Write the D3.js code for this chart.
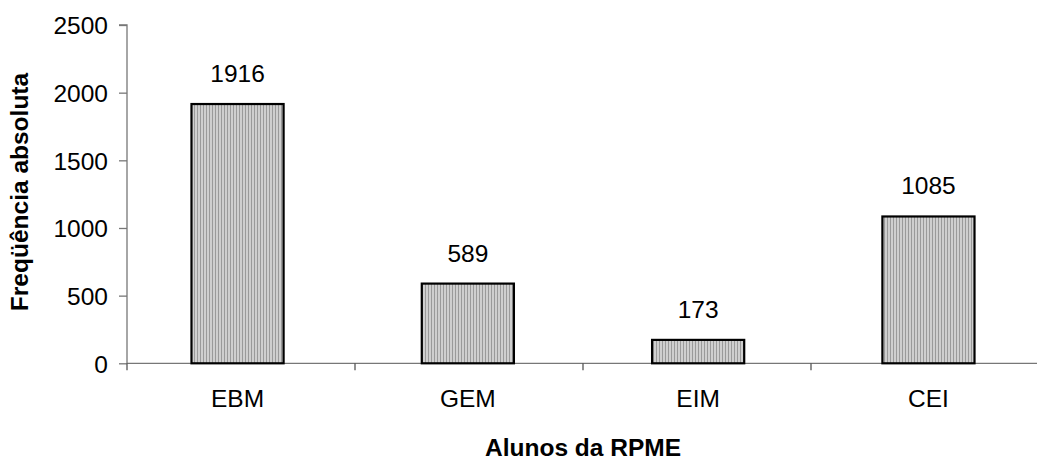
<!DOCTYPE html>
<html>
<head>
<meta charset="utf-8">
<script src="https://cdn.jsdelivr.net/npm/d3@7/dist/d3.min.js"></script>
<style>
  html, body { margin: 0; padding: 0; background: #fff; }
  svg { display: block; }
  text { font-family: "Liberation Sans", Arial, sans-serif; fill: #000; }
</style>
</head>
<body>
<svg id="chart" width="1037" height="460"></svg>
<script>
// Students of the RPME by group
const categories = ["EBM", "GEM", "EIM", "CEI"];
const values = [1916, 589, 173, 1085];
const yTicks = [0, 500, 1000, 1500, 2000, 2500];
const yTitle = "Freqüência absoluta";
const xTitle = "Alunos da RPME";

const svg = d3.select("#chart");
const plot = { left: 127, right: 1039, top: 25, bottom: 363.3 };
const fontSize = "24.5px";

// vertical stripe fill for the bars
const defs = svg.append("defs");
const pat = defs.append("pattern")
  .attr("id", "stripes")
  .attr("patternUnits", "userSpaceOnUse")
  .attr("width", 3).attr("height", 4);
pat.append("rect").attr("width", 3).attr("height", 4).attr("fill", "#cfcfcf");
pat.append("rect").attr("x", 2).attr("width", 1).attr("height", 4).attr("fill", "#9a9a9a");

const x = d3.scaleBand()
  .domain(categories)
  .range([plot.left, plot.right])
  .paddingInner(0.6)
  .paddingOuter(0.28);

const y = d3.scaleLinear()
  .domain([0, 2500])
  .range([plot.bottom, plot.top]);

// y axis
const yAxis = d3.axisLeft(y).tickValues(yTicks).tickSize(8).tickPadding(11).tickFormat(d3.format("d"));
const gy = svg.append("g").attr("transform", `translate(${plot.left},0)`).call(yAxis);
gy.select(".domain").attr("stroke", "#777").attr("stroke-width", 1.3).attr("d", `M-8,${y(2500)}H0V${y(0)}`);
gy.selectAll(".tick line").attr("stroke", "#777").attr("stroke-width", 1.3);
gy.selectAll(".tick text").style("font-size", fontSize).attr("fill", "#000").attr("dy", "0.36em");

// x axis baseline and category boundary ticks
const step = (plot.right - plot.left) / categories.length;
const boundaries = d3.range(categories.length + 1).map(i => plot.left + i * step);
svg.append("line")
  .attr("x1", plot.left).attr("x2", 1037)
  .attr("y1", y(0)).attr("y2", y(0))
  .attr("stroke", "#777").attr("stroke-width", 1.3);
svg.selectAll(".xtick").data(boundaries).enter().append("line")
  .attr("class", "xtick")
  .attr("x1", d => d).attr("x2", d => d)
  .attr("y1", y(0)).attr("y2", y(0) + 7)
  .attr("stroke", "#555").attr("stroke-width", 1.3);

// category labels
svg.selectAll(".xlabel").data(categories).enter().append("text")
  .attr("class", "xlabel")
  .attr("x", d => x(d) + x.bandwidth() / 2)
  .attr("y", 407)
  .attr("text-anchor", "middle")
  .style("font-size", fontSize)
  .text(d => d);

// bars
svg.selectAll(".bar").data(values).enter().append("rect")
  .attr("class", "bar")
  .attr("x", (d, i) => x(categories[i]))
  .attr("y", d => y(d))
  .attr("width", x.bandwidth())
  .attr("height", d => y(0) - y(d))
  .attr("fill", "url(#stripes)")
  .attr("stroke", "#000")
  .attr("stroke-width", 2.2);

// value labels
svg.selectAll(".vlabel").data(values).enter().append("text")
  .attr("class", "vlabel")
  .attr("x", (d, i) => x(categories[i]) + x.bandwidth() / 2)
  .attr("y", d => y(d) - 22)
  .attr("text-anchor", "middle")
  .style("font-size", fontSize)
  .text(d => d);

// axis titles
svg.append("text")
  .attr("transform", `translate(28,192) rotate(-90)`)
  .attr("text-anchor", "middle")
  .style("font-size", fontSize)
  .style("font-weight", "bold")
  .text(yTitle);

svg.append("text")
  .attr("x", (plot.left + plot.right) / 2)
  .attr("y", 456)
  .attr("text-anchor", "middle")
  .style("font-size", fontSize)
  .style("font-weight", "bold")
  .text(xTitle);
</script>
</body>
</html>
